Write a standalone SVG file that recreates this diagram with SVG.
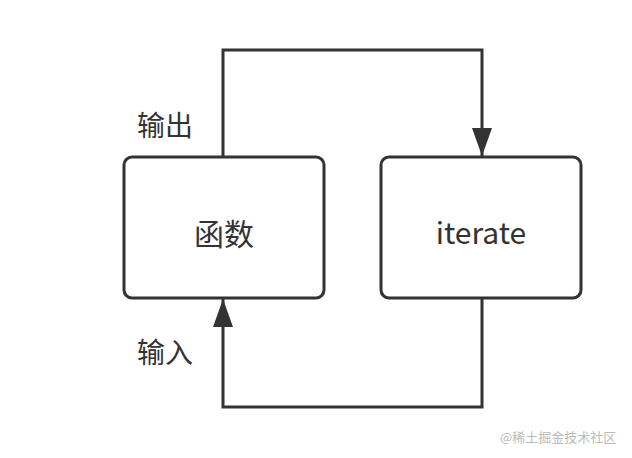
<svg xmlns="http://www.w3.org/2000/svg" width="632" height="458" viewBox="0 0 632 458">
<style>
.box{fill:#fff;stroke:#333;stroke-width:3}
.ln{fill:none;stroke:#333;stroke-width:3}
text{font-family:"Noto Sans CJK SC","Noto Sans",sans-serif;fill:#333}
</style>
<defs>
<marker id="ar" viewBox="0 0 28 20" refX="28" refY="10" markerWidth="28" markerHeight="20" markerUnits="userSpaceOnUse" orient="auto"><path d="M0,0L28,10L0,20z" fill="#333"/></marker></defs>
<rect width="632" height="458" fill="#fff"/>
<g id="connectors">
<path class="ln" d="M223,157V50H482V156" marker-end="url(#ar)"/>
<path class="ln" d="M482,298V407H223V299" marker-end="url(#ar)"/>
</g>
<g id="func"><rect class="box" x="124" y="157" width="200" height="141" rx="8"/><text x="224" y="245" font-size="30" text-anchor="middle">函数</text></g>
<g id="iterate"><rect class="box" x="381" y="157" width="200" height="141" rx="8"/><text x="481" y="244" font-size="30" text-anchor="middle">iterate</text></g>
<text x="137" y="136" font-size="28">输出</text>
<text x="137" y="363" font-size="28">输入</text>
<text x="500" y="442" font-size="13" style="fill:#bbb">@稀土掘金技术社区</text>
</svg>
